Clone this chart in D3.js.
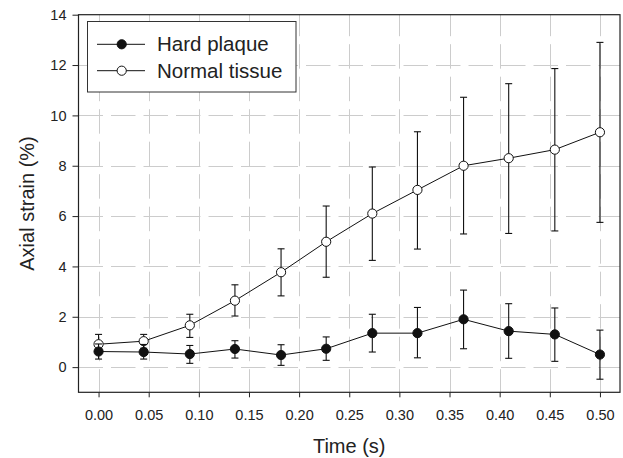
<!DOCTYPE html>
<html>
<head>
<meta charset="utf-8">
<script src="https://cdn.jsdelivr.net/npm/d3@7"></script>
<style>
  body { margin: 0; background: #fff; }
  svg { display: block; font-family: "Liberation Sans", Arial, sans-serif; }
</style>
</head>
<body>
<div id="chart"></div>
<script>
const times = [0, 0.045, 0.091, 0.136, 0.182, 0.227, 0.273, 0.318, 0.364, 0.409, 0.455, 0.5];

const hardMean = [0.62, 0.6, 0.52, 0.72, 0.48, 0.73, 1.35, 1.35, 1.9, 1.43, 1.3, 0.5];
const hardLow  = [0.32, 0.32, 0.15, 0.36, 0.07, 0.27, 0.6, 0.37, 0.73, 0.35, 0.23, -0.48];
const hardHigh = [0.92, 0.9, 0.86, 1.05, 0.89, 1.2, 2.1, 2.37, 3.06, 2.52, 2.35, 1.47];

const normMean = [0.91, 1.03, 1.66, 2.64, 3.77, 4.98, 6.1, 7.04, 8.0, 8.3, 8.64, 9.33];
const normLow  = [0.55, 0.75, 1.18, 2.03, 2.83, 3.57, 4.24, 4.69, 5.29, 5.31, 5.41, 5.75];
const normHigh = [1.3, 1.3, 2.1, 3.27, 4.7, 6.4, 7.95, 9.35, 10.72, 11.26, 11.86, 12.9];

const xTicks = [0, 0.05, 0.1, 0.15, 0.2, 0.25, 0.3, 0.35, 0.4, 0.45, 0.5];
const yTicks = [0, 2, 4, 6, 8, 10, 12, 14];
const seriesNames = ['Hard plaque', 'Normal tissue'];

const width = 623, height = 458;
const m = { left: 78.5, right: 620, top: 14.7, bottom: 392.3 };

const svg = d3.select('#chart').append('svg').attr('width', width).attr('height', height);

const x = d3.scaleLinear().domain([-0.02, 0.52]).range([m.left, m.right]);
const y = d3.scaleLinear().domain([-1, 14]).range([m.bottom, m.top]);

// grid (dashed, major ticks only)
const grid = svg.append('g').attr('stroke', '#cccccc').attr('stroke-width', 1).attr('stroke-dasharray', '24.5,8');
grid.selectAll('.vg').data(xTicks).enter().append('line')
  .attr('x1', d => Math.round(x(d)) + 0.5).attr('x2', d => Math.round(x(d)) + 0.5)
  .attr('y1', m.top).attr('y2', m.bottom).attr('stroke-dashoffset', 3);
grid.selectAll('.hg').data(yTicks.filter(d => d < 14)).enter().append('line')
  .attr('y1', d => Math.round(y(d)) + 0.5).attr('y2', d => Math.round(y(d)) + 0.5)
  .attr('x1', m.left).attr('x2', m.right);

// frame
svg.append('rect').attr('x', m.left).attr('y', m.top).attr('width', m.right - m.left).attr('height', m.bottom - m.top)
  .attr('fill', 'none').attr('stroke', '#222').attr('stroke-width', 1.2);

// axes
const xAxis = svg.append('g').attr('transform', `translate(0,${m.bottom})`)
  .call(d3.axisBottom(x).tickValues(xTicks).tickFormat(d3.format('.2f')).tickSize(5).tickPadding(12));
const yAxis = svg.append('g').attr('transform', `translate(${m.left},0)`)
  .call(d3.axisLeft(y).tickValues(yTicks).tickFormat(d3.format('d')).tickSize(6).tickPadding(6));
[xAxis, yAxis].forEach(a => {
  a.select('.domain').remove();
  a.selectAll('.tick line').attr('stroke', '#222');
  a.selectAll('.tick text').attr('fill', '#222').style('font-size', '14.5px')
    .style('font-family', '"Liberation Sans", Arial, sans-serif');
});

// axis titles
svg.append('text').attr('x', (m.left + m.right) / 2).attr('y', 453).attr('text-anchor', 'middle')
  .attr('fill', '#222').style('font-size', '20px').text('Time (s)');
svg.append('text').attr('transform', `translate(34,${(m.top + m.bottom) / 2}) rotate(-90)`).attr('text-anchor', 'middle')
  .attr('fill', '#222').style('font-size', '20px').text('Axial strain (%)');

// series
function drawSeries(mean, low, high, fill) {
  const g = svg.append('g');
  const pts = times.map((t, i) => ({ t, m: mean[i], lo: low[i], hi: high[i] }));
  g.selectAll('.eb').data(pts).enter().append('line')
    .attr('x1', d => x(d.t)).attr('x2', d => x(d.t))
    .attr('y1', d => y(d.lo)).attr('y2', d => y(d.hi))
    .attr('stroke', '#111').attr('stroke-width', 1.1);
  ['lo', 'hi'].forEach(k => {
    g.selectAll('.cap' + k).data(pts).enter().append('line')
      .attr('x1', d => x(d.t) - 3.5).attr('x2', d => x(d.t) + 3.5)
      .attr('y1', d => y(d[k])).attr('y2', d => y(d[k]))
      .attr('stroke', '#111').attr('stroke-width', 1.1);
  });
  g.append('path').datum(pts)
    .attr('d', d3.line().x(d => x(d.t)).y(d => y(d.m)))
    .attr('fill', 'none').attr('stroke', '#111').attr('stroke-width', 1);
  g.selectAll('circle').data(pts).enter().append('circle')
    .attr('cx', d => x(d.t)).attr('cy', d => y(d.m)).attr('r', 4.6)
    .attr('fill', fill).attr('stroke', '#111').attr('stroke-width', 1);
}
drawSeries(normMean, normLow, normHigh, '#fff');
drawSeries(hardMean, hardLow, hardHigh, '#111');

// legend
const lg = svg.append('g');
lg.append('rect').attr('x', 87.5).attr('y', 21.5).attr('width', 208.5).attr('height', 70.5)
  .attr('fill', '#fff').attr('stroke', '#333').attr('stroke-width', 1);
const fills = ['#111', '#fff'];
const rowsY = [44.3, 70.7];
seriesNames.forEach((name, i) => {
  lg.append('line').attr('x1', 97).attr('x2', 145).attr('y1', rowsY[i]).attr('y2', rowsY[i])
    .attr('stroke', '#111').attr('stroke-width', 1);
  lg.append('circle').attr('cx', 121.7).attr('cy', rowsY[i]).attr('r', 4.6)
    .attr('fill', fills[i]).attr('stroke', '#111').attr('stroke-width', 1);
  lg.append('text').attr('x', 157).attr('y', rowsY[i] + 7).attr('fill', '#222')
    .style('font-size', '20.5px').text(name);
});
</script>
</body>
</html>
